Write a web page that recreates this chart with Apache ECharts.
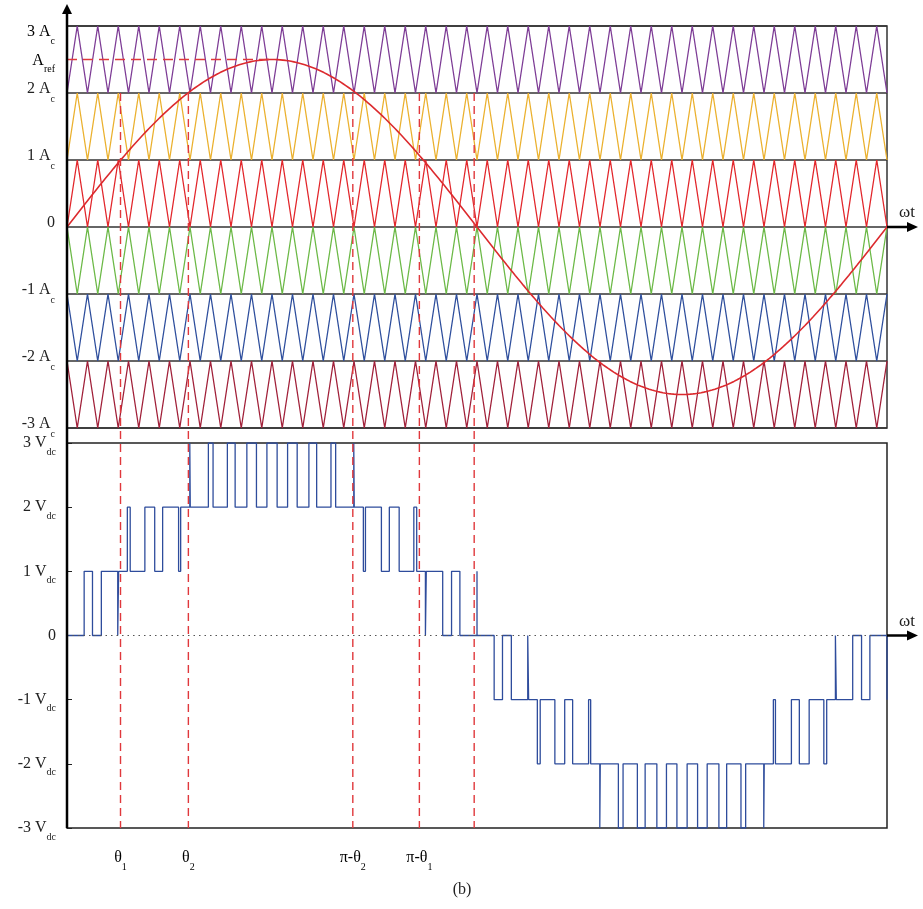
<!DOCTYPE html>
<html>
<head>
<meta charset="utf-8">
<script src="https://cdn.jsdelivr.net/npm/echarts@6/dist/echarts.min.js"></script>
<style>
html, body { margin: 0; padding: 0; background: #fff; }
#main { width: 923px; height: 909px; }
</style>
</head>
<body>
<div id="main"></div>
<script>
// --- data ---
var carrierCount = 40;            // triangle periods over one fundamental cycle
var refAmplitude = 2.5;           // A_ref, in units of A_c
var bandBottoms = [2, 1, 0, -1, -2, -3];   // lower edge of each carrier band
var bandColors = ['#7e3d96', '#ebb12f', '#e2272c', '#6cb947', '#2f4f9d', '#a1213a'];
var topUnit = 'c';                // "n A_c"
var bottomUnit = 'dc';            // "n V_dc"
var thetaPos = [0.41, 0.93, 2.19, 2.70, 3.12];   // dashed markers, radians
var thetaText = [['θ', '1'], ['θ', '2'], ['π-θ', '2'], ['π-θ', '1'], null];

var TWO_PI = Math.PI * 2;
var T = TWO_PI / carrierCount;

function tri(x) {
    var p = x / T - Math.floor(x / T);
    return p < 0.5 ? 2 * p : 2 - 2 * p;
}
function carrier(bottom, x) {
    // upper bands start at valley, lower bands start at peak (POD)
    return bottom >= 0 ? bottom + tri(x) : bottom + 1 - tri(x);
}
function ref(x) {
    return refAmplitude * Math.sin(x);
}

// carrier triangles: one point per half period
var carrierSeries = bandBottoms.map(function (b, i) {
    var pts = [];
    for (var k = 0; k <= carrierCount * 2; k++) {
        var x = k * T / 2;
        pts.push([x, carrier(b, x)]);
    }
    return {
        type: 'line', xAxisIndex: 0, yAxisIndex: 0, data: pts, symbol: 'none',
        lineStyle: { color: bandColors[i], width: 1.3 }, silent: true, z: 2
    };
});

var sinePts = [];
for (var i = 0; i <= 600; i++) {
    var x = TWO_PI * i / 600;
    sinePts.push([x, ref(x)]);
}

// output voltage: compare reference with every carrier
function level(x) {
    var s = ref(x), n = 0;
    bandBottoms.forEach(function (b) {
        var c = carrier(b, x);
        if (b >= 0 && s > c) n++;
        if (b < 0 && s < c) n--;
    });
    return n;
}
var outPts = [];
var N = 24000, prev = level(0);
outPts.push([0, prev]);
for (var j = 1; j <= N; j++) {
    var xx = TWO_PI * j / N;
    var lv = level(xx);
    if (lv !== prev) {
        outPts.push([xx, prev]);
        outPts.push([xx, lv]);
        prev = lv;
    }
}
outPts.push([TWO_PI, prev]);

var serif = 'Liberation Serif';
var txt = '#222';
var rich = {
    n: { fontFamily: serif, fontSize: 16, color: txt, lineHeight: 28 },
    s: { fontFamily: serif, fontSize: 10, color: txt, lineHeight: 12, verticalAlign: 'bottom' },
    // top panel: text sits a little above its line
    u: { fontFamily: serif, fontSize: 16, color: txt, lineHeight: 28, padding: [0, 0, 8, 0] },
    us: { fontFamily: serif, fontSize: 10, color: txt, lineHeight: 12, verticalAlign: 'bottom', padding: [0, 0, 3, 0] }
};
function topLabel(v) {
    if (v === 0) return '{u|0}';
    if (v === 3) return '';   // drawn below the border as a graphic
    return '{u|' + v + ' A}{us|' + topUnit + '}';
}
function bottomLabel(v) {
    if (v === 0) return '{n|0}';
    return '{n|' + v + ' V}{s|' + bottomUnit + '}';
}

var chart = echarts.init(document.getElementById('main'));
chart.setOption({
    animation: false,
    backgroundColor: '#fff',
    grid: [
        { left: 67, top: 26, width: 820, height: 402, show: true, borderColor: '#333', borderWidth: 1.5 },
        { left: 67, top: 443, width: 820, height: 385, show: true, borderColor: '#222', borderWidth: 1.5 }
    ],
    xAxis: [
        { gridIndex: 0, type: 'value', min: 0, max: TWO_PI, axisLine: { show: false }, axisTick: { show: false },
          axisLabel: { show: false }, splitLine: { show: false } },
        { gridIndex: 1, type: 'value', min: 0, max: TWO_PI, axisLine: { show: false }, axisTick: { show: false },
          axisLabel: { show: false }, splitLine: { show: false } }
    ],
    yAxis: [
        { gridIndex: 0, type: 'value', min: -3, max: 3, interval: 1, axisLine: { show: false }, axisTick: { show: false },
          splitLine: { show: true, lineStyle: { color: '#333', width: 1.5 } },
          axisLabel: { margin: 12, formatter: topLabel, rich: rich } },
        { gridIndex: 1, type: 'value', min: -3, max: 3, interval: 1, axisLine: { show: false },
          axisTick: { show: true, inside: true, length: 5, lineStyle: { color: '#222' } },
          splitLine: { show: false },
          axisLabel: { margin: 11, formatter: bottomLabel, rich: rich } }
    ],
    series: carrierSeries.concat([
        {
            type: 'line', xAxisIndex: 0, yAxisIndex: 0, data: sinePts, symbol: 'none', z: 4,
            lineStyle: { color: '#dc2a2e', width: 1.6 },
            markLine: {
                silent: true, symbol: 'none', label: { show: false },
                lineStyle: { color: '#e0383c', width: 1.4, type: [10, 6] },
                data: [[{ coord: [0, refAmplitude] }, { coord: [Math.PI / 2, refAmplitude] }]]
            }
        },
        {
            type: 'line', xAxisIndex: 1, yAxisIndex: 1, data: outPts, symbol: 'none', z: 4,
            lineStyle: { color: '#2e4c9c', width: 1.3 },
            markLine: {
                silent: true, symbol: 'none', label: { show: false },
                lineStyle: { color: '#555', width: 1.2, type: [1.5, 4] },
                data: [{ yAxis: 0 }]
            }
        }
    ])
});

// decorations placed through the axes
function px0(p) { return chart.convertToPixel({ xAxisIndex: 0, yAxisIndex: 0 }, p); }
function px1(p) { return chart.convertToPixel({ xAxisIndex: 1, yAxisIndex: 1 }, p); }

var g = [];
var axTop = px0([0, 3]), axBot = px1([0, -3]);
g.push({ type: 'line', shape: { x1: axTop[0], y1: axTop[1] - 14, x2: axBot[0], y2: axBot[1] },
         style: { stroke: '#000', lineWidth: 2.5 }, z: 10 });
g.push({ type: 'polygon', shape: { points: [[axTop[0] - 5, axTop[1] - 12], [axTop[0] + 5, axTop[1] - 12], [axTop[0], axTop[1] - 22]] },
         style: { fill: '#000' }, z: 10 });

// "3 A_c" sits just under the top border
g.push({ type: 'text', x: axTop[0] - 12, y: axTop[1] + 6, z: 10,
         style: { text: '{n|3 A}{s|' + topUnit + '}', rich: rich, align: 'right', verticalAlign: 'middle' } });

[px0([TWO_PI, 0]), px1([TWO_PI, 0])].forEach(function (p) {
    g.push({ type: 'line', shape: { x1: p[0], y1: p[1], x2: p[0] + 22, y2: p[1] },
             style: { stroke: '#000', lineWidth: 2.5 }, z: 10 });
    g.push({ type: 'polygon', shape: { points: [[p[0] + 20, p[1] - 5], [p[0] + 20, p[1] + 5], [p[0] + 31, p[1]]] },
             style: { fill: '#000' }, z: 10 });
    g.push({ type: 'text', x: p[0] + 20, y: p[1] - 14, z: 10,
             style: { text: 'ωt', font: '17px "Liberation Serif"', fill: txt, align: 'center', verticalAlign: 'middle' } });
});

thetaPos.forEach(function (t, i) {
    var a = px0([t, 2]), b = px1([t, -3]);
    g.push({ type: 'line', shape: { x1: a[0], y1: a[1], x2: b[0], y2: b[1] }, z: 6,
             style: { stroke: '#e0383c', lineWidth: 1.4, lineDash: [8, 5] } });
    if (thetaText[i]) {
        g.push({ type: 'text', x: a[0], y: b[1] + 30, z: 10,
                 style: { text: '{n|' + thetaText[i][0] + '}{s|' + thetaText[i][1] + '}', rich: rich,
                          align: 'center', verticalAlign: 'middle' } });
    }
});

var ar = px0([0, refAmplitude]);
g.push({ type: 'text', x: ar[0] - 12, y: ar[1] + 1, z: 10,
         style: { text: '{n|A}{s|ref}', rich: rich, align: 'right', verticalAlign: 'middle' } });

g.push({ type: 'text', x: 462, y: 890, z: 10,
         style: { text: '(b)', font: '16px "Liberation Serif"', fill: txt, align: 'center', verticalAlign: 'middle' } });

chart.setOption({ graphic: g });
</script>
</body>
</html>
